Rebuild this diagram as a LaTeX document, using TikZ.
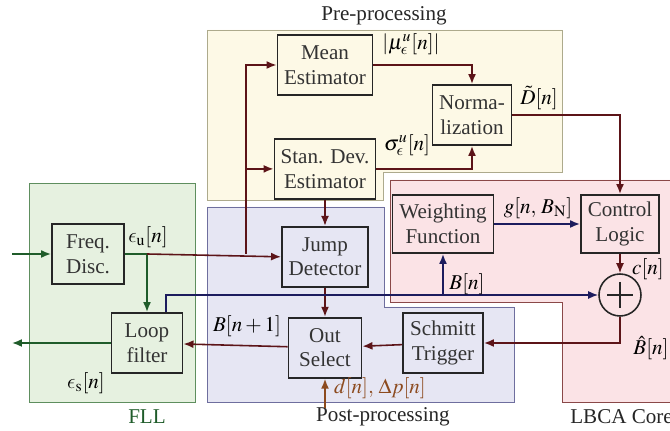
\documentclass[tikz,border=0pt]{standalone}
\usepackage{mathptmx}
\DeclareSymbolFont{cmletters}{OML}{cmm}{m}{it}
\DeclareMathSymbol{\lunateps}{\mathord}{cmletters}{"0F}
\usepackage{fontspec}
\setmainfont{Liberation Serif}
\usepackage{xcolor}
\usepackage{tikz}
\usetikzlibrary{arrows.meta, positioning, calc}
\definecolor{wine}{HTML}{5C1418}
\definecolor{fllgreen}{HTML}{1F5C2A}
\definecolor{busblue}{HTML}{1C1C5E}
\definecolor{inbrown}{HTML}{8C4A1E}
\definecolor{prefill}{HTML}{FDF9E6}
\definecolor{preline}{HTML}{ADAA8C}
\definecolor{postfill}{HTML}{E6E6F3}
\definecolor{postline}{HTML}{6E6E9E}
\definecolor{corefill}{HTML}{FBE3E6}
\definecolor{coreline}{HTML}{8A4848}
\definecolor{fllfill}{HTML}{E6F1E0}
\definecolor{fllline}{HTML}{5E8E5E}
\tikzstyle{block} = [rectangle, draw=black!85, line width=1.1pt, minimum height=1.2cm, align=center, text=black!80, inner sep=1pt, font=\fontsize{12}{14}\selectfont]
\tikzstyle{adder} = [circle, draw=black!85, line width=0.9pt, minimum size=0.84cm]
\tikzstyle{region} = [line width=0.5pt]
\tikzstyle{title} = [font=\fontsize{12}{14}\selectfont, text=black!85]
\tikzstyle{lbl} = [font=\fontsize{12}{14}\selectfont, inner sep=0pt]
\tikzstyle{wire} = [line width=0.9pt, -{Latex[length=2mm,width=1.6mm]}]

\begin{document}
\begin{tikzpicture}[x=0.02cm, y=-0.02cm]
    \useasboundingbox (0,0) rectangle (670,431);
    % regions
    \draw [region, draw=preline, fill=prefill] (207,30) -- (562,30) -- (562,172) -- (383,172) -- (383,200) -- (207,200) -- cycle;
    \draw [region, draw=postline, fill=postfill] (207,207) -- (384,207) -- (384,307) -- (514,307) -- (514,402) -- (207,402) -- cycle;
    \draw [region, draw=coreline, fill=corefill] (390,180) -- (680,180) -- (680,402) -- (562,402) -- (562,302) -- (390,302) -- cycle;
    \draw [region, draw=fllline, fill=fllfill] (29,183) rectangle (195,402);
    \node (pretitle) [title] at (384,16) {Pre-processing};
    \node (posttitle) [title] at (383,417) {Post-processing};
    \node (flltitle) [title, text=fllgreen] at (147,417) {FLL};
    \node (coretitle) [title, anchor=west, inner sep=0pt] at (570,417) {LBCA Core};

    % blocks
    \node (disc) [block, minimum width=1.44cm] at (88,254) {Freq.\\Disc.};
    \node (loop) [block, minimum width=1.42cm] at (147,343) {Loop\\filter};
    \node (mean) [block, minimum width=1.9cm] at (325,65) {Mean\\Estimator};
    \node (std) [block, minimum width=2.02cm, below=0.84cm of mean] {Stan. Dev.\\Estimator};
    \node (norm) [block, minimum width=1.58cm] at (472,115) {Norma-\\lization};
    \node (jump) [block, minimum width=1.72cm, below=0.52cm of std] {Jump\\Detector};
    \node (sel) [block, minimum width=1.46cm, below=0.58cm of jump] {Out\\Select};
    \node (trig) [block, minimum width=1.6cm] at (443,343) {Schmitt\\Trigger};
    \node (weight) [block, minimum width=2.02cm, minimum height=1.16cm] at (443,224) {Weighting\\Function};
    \node (ctrl) [block, minimum width=1.56cm, minimum height=1.16cm] at (620,224) {Control\\Logic};
    \node (sum) [adder] at (620,295) {};
    \draw [line width=1.1pt, black!85] ($(sum)+(-13,0)$) -- ($(sum)+(13,0)$) ($(sum)+(0,-13)$) -- ($(sum)+(0,13)$);

    \coordinate (in) at (12,254);
    \coordinate (out) at (12,343);
    \coordinate (split) at (loop.north |- disc.east);
    \coordinate (tap) at (246,254);
    \coordinate (busstart) at ($(loop.north)+(19,0)$);
    \coordinate (ext) at (325,408);

    % connectors
    \draw [wire, fllgreen] (in) -- (disc);
    \draw [line width=0.9pt, fllgreen] (disc.east) -- (split);
    \draw [wire, fllgreen] (split) -- (loop.north);
    \draw [wire, fllgreen] (loop.west) -- (out);
    \draw [wire, wine] (split) -- (jump.west);
    \draw [wire, wine] (tap) |- (mean.west);
    \draw [wire, wine] (tap) |- (std.west);
    \draw [wire, wine] (mean.east) -| (norm.north);
    \draw [wire, wine] (std.east) -| (norm.south);
    \draw [wire, wine] (norm.east) -| (ctrl.north);
    \draw [wire, wine] (std) -- (jump);
    \draw [wire, wine] (jump) -- (sel);
    \draw [wire, busblue] (busstart) |- (sum.west);
    \draw [wire, busblue] (weight.south |- sum.west) -- (weight.south);
    \draw [wire, busblue] (weight) -- (ctrl);
    \draw [wire, wine] (ctrl) -- (sum);
    \draw [wire, wine] (sum.south) |- (trig.east);
    \draw [wire, wine] (trig) -- (sel);
    \draw [wire, wine] (sel) -- (loop);
    \draw [wire, inbrown] (ext) -- (sel.south);

    % signal labels
    \node (eu) [lbl] at (148,237) {$\lunateps_{\mathrm{u}}[n]$};
    \node (es) [lbl] at (86,383) {$\lunateps_{\mathrm{s}}[n]$};
    \node (mu) [lbl] at (411,44) {$|\mu_{\lunateps}^{u}[n]|$};
    \node (sig) [lbl] at (407,145) {$\sigma_{\lunateps}^{u}[n]$};
    \node (dt) [lbl] at (539,98) {$\tilde{D}[n]$};
    \node (g) [lbl] at (538,208) {$g[n,\,B_{\mathrm{N}}]$};
    \node (bn) [lbl] at (467,284) {$B[n]$};
    \node (cn) [lbl] at (648,269) {$c[n]$};
    \node (bh) [lbl] at (651,348) {$\hat{B}[n]$};
    \node (bnext) [lbl] at (247,326) {$B[n+1]$};
    \node (dp) [lbl, text=inbrown] at (380,388) {$d[n],\,\Delta p[n]$};
\end{tikzpicture}
\end{document}
